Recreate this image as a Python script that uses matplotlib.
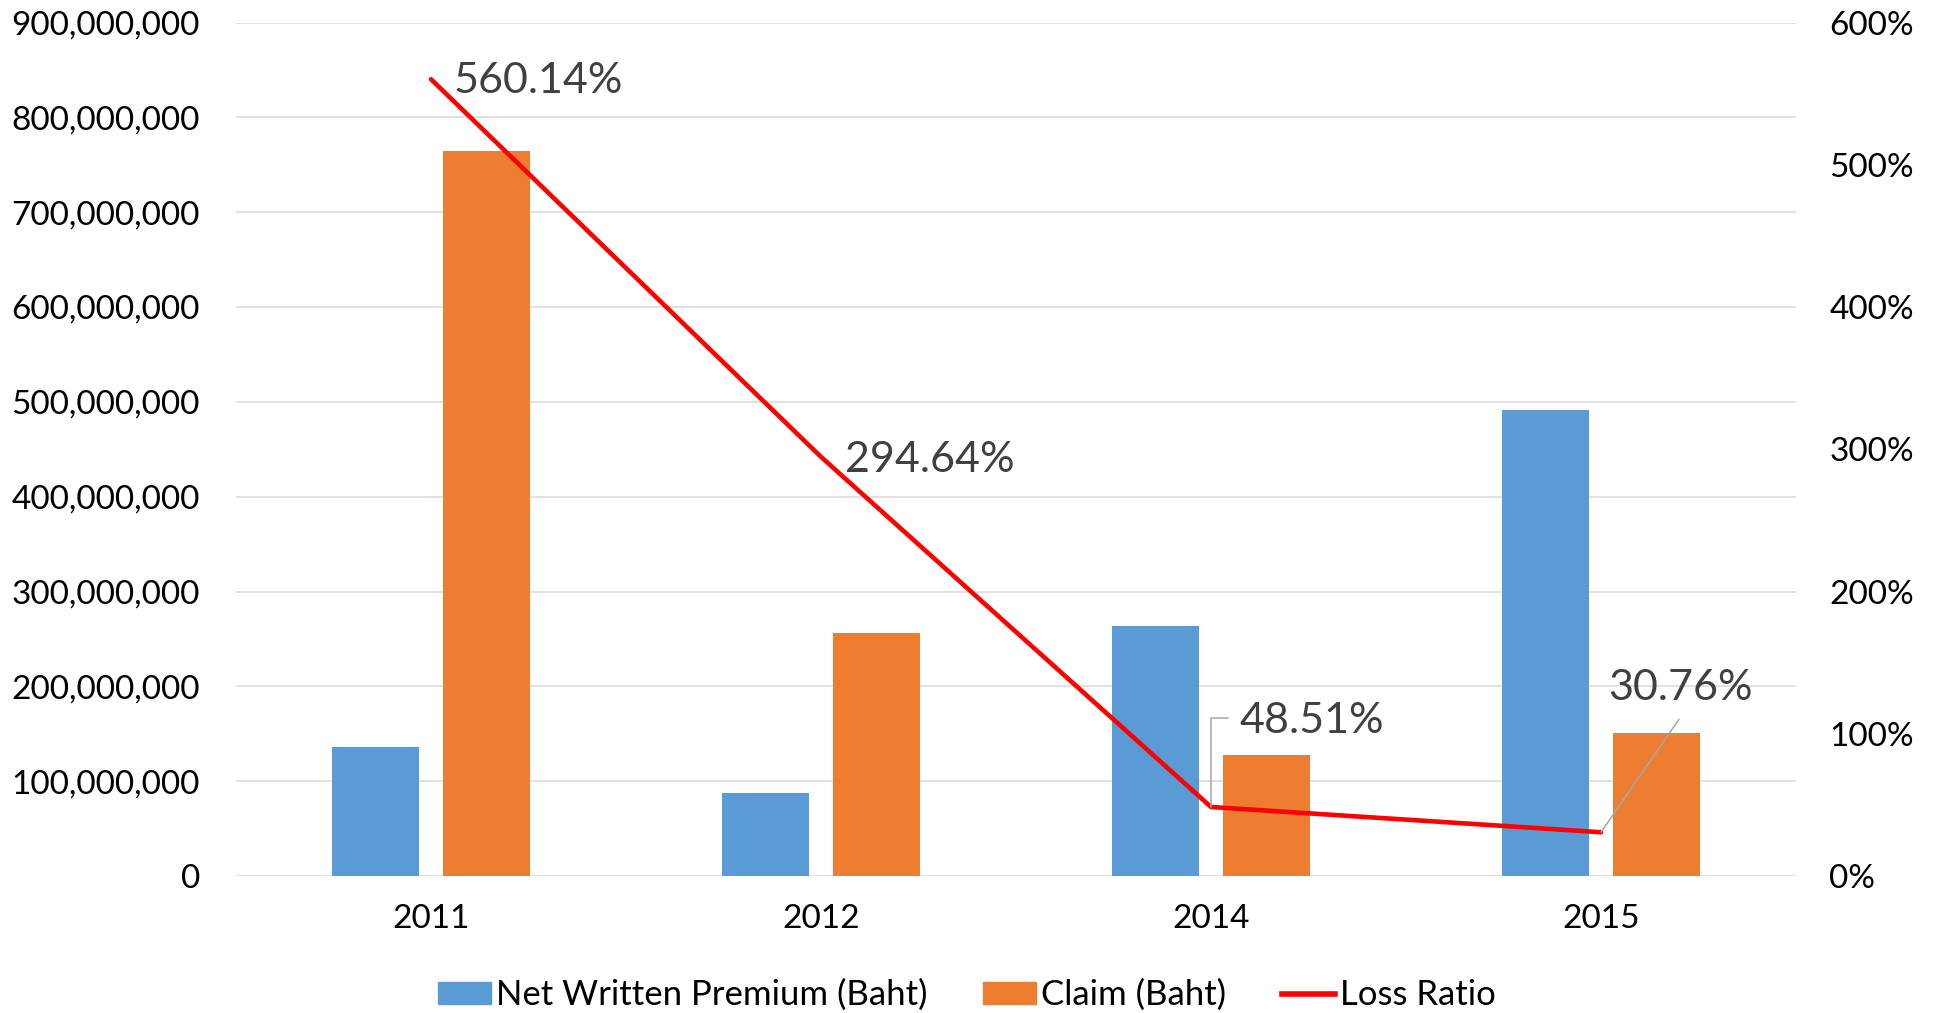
import matplotlib
matplotlib.use("Agg")
import matplotlib.pyplot as plt
import numpy as np
from matplotlib.ticker import FuncFormatter, MultipleLocator
from matplotlib.patches import Patch
from matplotlib.lines import Line2D

plt.rcParams['font.family'] = ['Lato', 'DejaVu Sans']

years = ["2011", "2012", "2014", "2015"]
net_written_premium = [136_400_000, 87_200_000, 264_000_000, 491_000_000]
claim = [765_000_000, 256_600_000, 127_300_000, 150_800_000]
loss_ratio = [5.6014, 2.9464, 0.4851, 0.3076]
loss_ratio_labels = ["560.14%", "294.64%", "48.51%", "30.76%"]

BLUE = "#5B9BD5"
ORANGE = "#ED7D31"
RED = "#FF0000"
GRID = "#D9D9D9"
LABEL = "#404040"

fig = plt.figure(figsize=(19.39, 10.13), dpi=100)
ax = fig.add_axes([236/1939, 1-876/1013, (1796-236)/1939, (876-22.5)/1013])
ax2 = ax.twinx()

x = np.arange(len(years))
w = 0.223
off = 0.142
ax.bar(x - off, net_written_premium, width=w, color=BLUE, zorder=2)
ax.bar(x + off, claim, width=w, color=ORANGE, zorder=2)

ax.set_xlim(-0.5, 3.5)
ax.set_ylim(0, 900_000_000)
ax.yaxis.set_major_locator(MultipleLocator(100_000_000))
ax.yaxis.set_major_formatter(FuncFormatter(lambda v, p: f"{int(round(v)):,}"))
ax.grid(axis='y', color=GRID, linewidth=1.1)
ax.set_axisbelow(True)
ax.set_xticks(x)
ax.set_xticklabels(years)
for s in ax.spines.values():
    s.set_visible(False)
for s in ax2.spines.values():
    s.set_visible(False)
ax.tick_params(axis='y', length=0, pad=26, labelsize=24, labelcolor='black')
ax.tick_params(axis='x', length=0, pad=20, labelsize=24, labelcolor='black')

ax2.plot(x, loss_ratio, color=RED, linewidth=3.3, solid_capstyle='round', zorder=3)
ax2.set_ylim(0, 6)
ax2.yaxis.set_major_locator(MultipleLocator(1))
ax2.yaxis.set_major_formatter(FuncFormatter(lambda v, p: f"{int(round(v*100))}%"))
ax2.tick_params(axis='y', length=0, pad=24, labelsize=24, labelcolor='black')
for t in ax2.get_yticklabels():
    t.set_ha('left')

# data labels (offsets in pixels)
text_offsets = [(23, -2), (24, -3), (28, 86), (7, 144)]
for i, (lab, (dx, dy)) in enumerate(zip(loss_ratio_labels, text_offsets)):
    ax2.annotate(lab, xy=(x[i], loss_ratio[i]), xytext=(dx, dy), textcoords='offset pixels',
                 ha='left', va='center', fontsize=31, color=LABEL, zorder=4)

# leader lines
ax2.annotate('', xy=(x[2], loss_ratio[2]), xytext=(17, 89), textcoords='offset pixels',
             arrowprops=dict(arrowstyle='-', color='#A6A6A6', lw=1.1, shrinkA=0, shrinkB=0,
                             connectionstyle='angle,angleA=0,angleB=90,rad=0'))
ax2.annotate('', xy=(x[3], loss_ratio[3]), xytext=(78, 113), textcoords='offset pixels',
             arrowprops=dict(arrowstyle='-', color='#A6A6A6', lw=1.1, shrinkA=0, shrinkB=0))

handles = [Patch(color=BLUE), Patch(color=ORANGE), Line2D([], [], color=RED, linewidth=4)]
labels = ["Net Written Premium (Baht)", "Claim (Baht)", "Loss Ratio"]
fig.legend(handles, labels, loc='center', bbox_to_anchor=(0.4987, 1-995/1013), ncol=3,
           frameon=False, fontsize=25, handlelength=1.52, handleheight=0.6,
           handletextpad=0.15, columnspacing=1.6, borderpad=0, borderaxespad=0)

fig.savefig("out.png", dpi=100)
